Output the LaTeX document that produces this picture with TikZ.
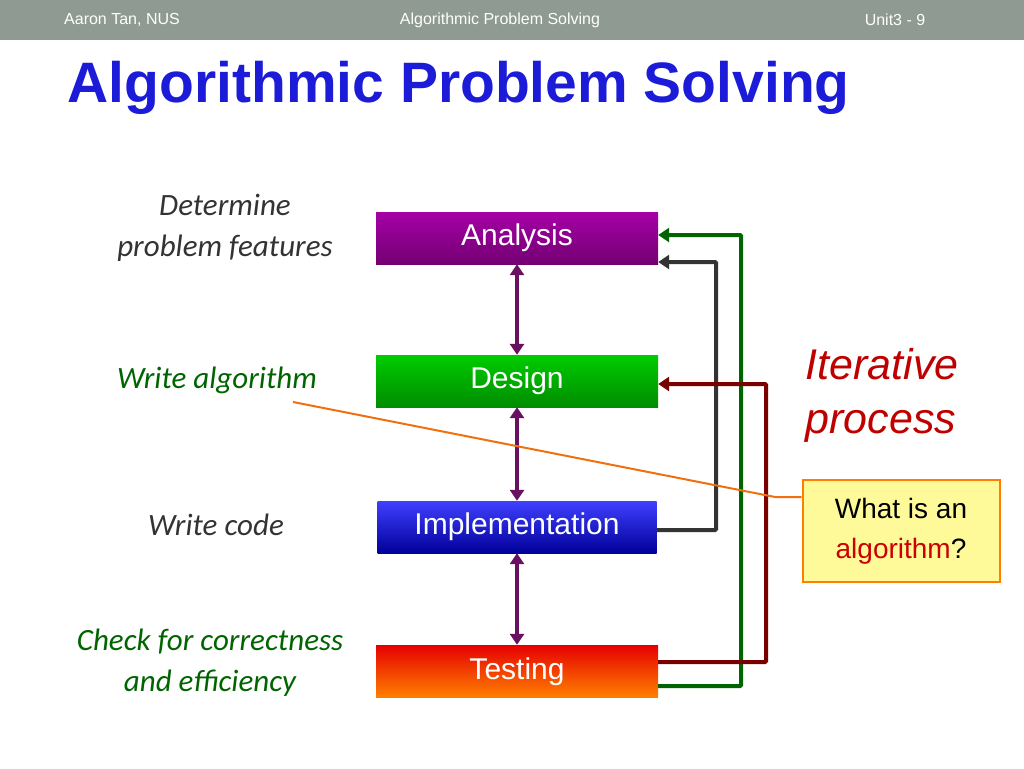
\documentclass[tikz,border=0pt]{standalone}
\usepackage{fontspec}
\setmainfont{Liberation Sans}
\newfontfamily\carlitofont{Carlito}
\usetikzlibrary{arrows.meta}
\definecolor{hdr}{HTML}{8E9A92}
\definecolor{ttl}{HTML}{1C1CD8}
\definecolor{grn}{HTML}{006400}
\definecolor{drk}{HTML}{7A0000}
\definecolor{pur}{HTML}{6A1060}
\definecolor{org}{HTML}{F07010}
\definecolor{lbl}{HTML}{333333}
\begin{document}
\begin{tikzpicture}[x=1pt,y=-1pt,
 stage/.style={minimum width=282pt,minimum height=52pt,inner sep=0pt},
 stxt/.style={text=white,font=\fontsize{30}{32}\selectfont},
 lab/.style={font=\carlitofont\itshape\fontsize{31}{41}\selectfont,align=center},
 dbl/.style={pur,line width=3.5pt,{Triangle[length=11pt,width=14pt]}-{Triangle[length=11pt,width=14pt]}},
 fb/.style={line width=4pt,-{Triangle[length=11pt,width=14pt]},rounded corners=1pt}]
\useasboundingbox (0,0) rectangle (1024,768);
\fill[hdr] (0,0) rectangle (1024,40);
\node[text=white,font=\fontsize{16}{18}\selectfont] (h1) at (122,20) {Aaron Tan, NUS};
\node[text=white,font=\fontsize{16}{18}\selectfont] (h2) at (500,20) {Algorithmic Problem Solving};
\node[text=white,font=\fontsize{16}{18}\selectfont] (h3) at (895,20) {Unit3 - 9};
\node[anchor=west,text=ttl,font=\bfseries\fontsize{57}{60}\selectfont] (t) at (64,88) {Algorithmic Problem Solving};
\node[stage,top color=violet!70!magenta,bottom color=violet!90!black] (a) at (517,238) {};
\node[stxt] at (517,238) {Analysis};
\node[stage,top color=green!80!black,bottom color=green!55!black] (d) at (517,381) {};
\node[stxt] at (517,381) {Design};
\node[stage,top color=blue!75!white,bottom color=blue!60!black,minimum width=279pt] (i) at (517,527) {};
\node[stxt] at (517,527) {Implementation};
\node[stage,top color=red!90!black,bottom color=orange] (te) at (517,671) {};
\node[stxt] at (517,672) {Testing};
\draw[dbl] (a.south) -- (d.north);
\draw[dbl] (d.south) -- (i.north);
\draw[dbl] (i.south) -- (te.north);
\draw[fb,grn] ([yshift=-15pt]te.east) -| (741,235) -- ([yshift=3pt]a.east);
\draw[fb,black!80] ([yshift=-3pt]i.east) -| (716,262) -- ([yshift=-24pt]a.east);
\draw[fb,drk] ([yshift=9pt]te.east) -| (766,384) -- ([yshift=-3pt]d.east);
\node[lab,text=lbl] (l1) at (225,228) {Determine\\problem features};
\node[lab,text=grn] (l2) at (217,380) {Write algorithm};
\node[lab,text=lbl] (l3) at (216,525) {Write code};
\node[lab,text=grn] (l4) at (210,663) {Check for correctness\\and efficiency};
\node[text=red!75!black,font=\itshape\fontsize{43}{54}\selectfont,align=left,anchor=west] (it) at (802,395) {Iterative\\process};
\node[draw=orange,line width=2pt,fill=yellow!40,minimum width=197pt,minimum height=102pt,align=center,font=\fontsize{28}{40}\selectfont] (c) at (901,531) {What is an\\\textcolor{red!80!black}{algorithm}?};
\coordinate (o1) at (293,402);
\draw[org,line width=2pt] (o1) -- (775,497) -- (c.west|-0,497);
\end{tikzpicture}
\end{document}
